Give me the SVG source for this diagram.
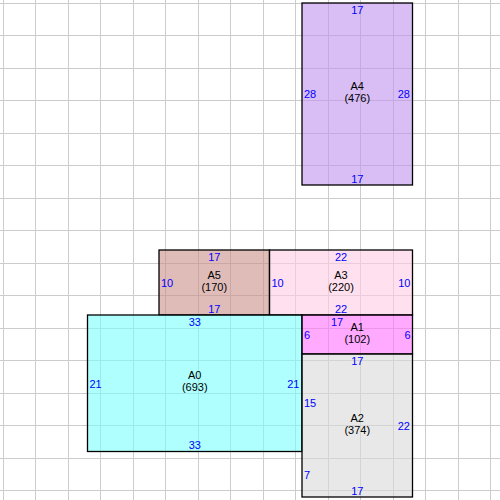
<svg xmlns="http://www.w3.org/2000/svg" width="500" height="500" viewBox="0 0 500 500">
<style>
.grid line{stroke:#cccccc;stroke-width:1}
.box{stroke:#000;stroke-width:1.3;fill-opacity:0.6}
.nm{font-family:"Liberation Sans",Arial,sans-serif;font-size:11px;fill:#000;text-anchor:middle}
.d{font-family:"Liberation Sans",Arial,sans-serif;font-size:11px;fill:#0000ff}
.c{text-anchor:middle}
.s{text-anchor:start}
.e{text-anchor:end}
</style>
<rect x="0" y="0" width="500" height="500" fill="#fff"/>
<g class="grid">
<line x1="3.5" y1="0" x2="3.5" y2="500"/><line x1="35.5" y1="0" x2="35.5" y2="500"/><line x1="68.5" y1="0" x2="68.5" y2="500"/><line x1="100.5" y1="0" x2="100.5" y2="500"/><line x1="133.5" y1="0" x2="133.5" y2="500"/><line x1="165.5" y1="0" x2="165.5" y2="500"/><line x1="198.5" y1="0" x2="198.5" y2="500"/><line x1="230.5" y1="0" x2="230.5" y2="500"/><line x1="263.5" y1="0" x2="263.5" y2="500"/><line x1="295.5" y1="0" x2="295.5" y2="500"/><line x1="328.5" y1="0" x2="328.5" y2="500"/><line x1="360.5" y1="0" x2="360.5" y2="500"/><line x1="393.5" y1="0" x2="393.5" y2="500"/><line x1="425.5" y1="0" x2="425.5" y2="500"/><line x1="458.5" y1="0" x2="458.5" y2="500"/><line x1="490.5" y1="0" x2="490.5" y2="500"/>
<line y1="3.5" x1="0" y2="3.5" x2="500"/><line y1="35.5" x1="0" y2="35.5" x2="500"/><line y1="68.5" x1="0" y2="68.5" x2="500"/><line y1="100.5" x1="0" y2="100.5" x2="500"/><line y1="133.5" x1="0" y2="133.5" x2="500"/><line y1="165.5" x1="0" y2="165.5" x2="500"/><line y1="198.5" x1="0" y2="198.5" x2="500"/><line y1="230.5" x1="0" y2="230.5" x2="500"/><line y1="263.5" x1="0" y2="263.5" x2="500"/><line y1="295.5" x1="0" y2="295.5" x2="500"/><line y1="328.5" x1="0" y2="328.5" x2="500"/><line y1="360.5" x1="0" y2="360.5" x2="500"/><line y1="393.5" x1="0" y2="393.5" x2="500"/><line y1="425.5" x1="0" y2="425.5" x2="500"/><line y1="458.5" x1="0" y2="458.5" x2="500"/><line y1="490.5" x1="0" y2="490.5" x2="500"/>
</g>
<g id="A4">
<rect class="box" x="302" y="3" width="110.5" height="182" fill="#be93ee"/>
<text class="nm" x="357.25" y="90">A4</text>
<text class="nm" x="357.25" y="102">(476)</text>
<text class="d c" x="357.25" y="14">17</text>
<text class="d c" x="357.25" y="182.5">17</text>
<text class="d s" x="304" y="98">28</text>
<text class="d e" x="410" y="98">28</text>
</g>
<g id="A5">
<rect class="box" x="159" y="250" width="110.5" height="65" fill="#cb8f8a"/>
<text class="nm" x="214.25" y="278.5">A5</text>
<text class="nm" x="214.25" y="290.5">(170)</text>
<text class="d c" x="214.25" y="261">17</text>
<text class="d c" x="214.25" y="312.5">17</text>
<text class="d s" x="161" y="286.5">10</text>
</g>
<g id="A3">
<rect class="box" x="269.5" y="250" width="143" height="65" fill="#ffcbe3"/>
<text class="nm" x="341" y="278.5">A3</text>
<text class="nm" x="341" y="290.5">(220)</text>
<text class="d c" x="341" y="261">22</text>
<text class="d c" x="341" y="312.5">22</text>
<text class="d s" x="271.5" y="286.5">10</text>
<text class="d e" x="410.5" y="286.5">10</text>
</g>
<g id="A0">
<rect class="box" x="87.5" y="315" width="214.5" height="136.5" fill="#7bffff"/>
<text class="nm" x="194.75" y="379.25">A0</text>
<text class="nm" x="194.75" y="391.25">(693)</text>
<text class="d c" x="194.75" y="326">33</text>
<text class="d c" x="194.75" y="449">33</text>
<text class="d s" x="89.5" y="387.5">21</text>
<text class="d e" x="299.5" y="387.5">21</text>
</g>
<g id="A1">
<rect class="box" x="302" y="315" width="110.5" height="39" fill="#ff71ff"/>
<text class="nm" x="357.25" y="330.5">A1</text>
<text class="nm" x="357.25" y="342.5">(102)</text>
<text class="d c" x="337" y="326">17</text>
<text class="d s" x="304" y="338.5">6</text>
<text class="d e" x="410.5" y="338.5">6</text>
</g>
<g id="A2">
<rect class="box" x="302" y="354" width="110.5" height="143" fill="#d9d9d9"/>
<text class="nm" x="357.25" y="421.5">A2</text>
<text class="nm" x="357.25" y="433.5">(374)</text>
<text class="d c" x="357.25" y="365">17</text>
<text class="d c" x="357.25" y="495">17</text>
<text class="d s" x="304" y="406.75">15</text>
<text class="d s" x="304" y="478.5">7</text>
<text class="d e" x="410" y="430">22</text>
</g>
</svg>
